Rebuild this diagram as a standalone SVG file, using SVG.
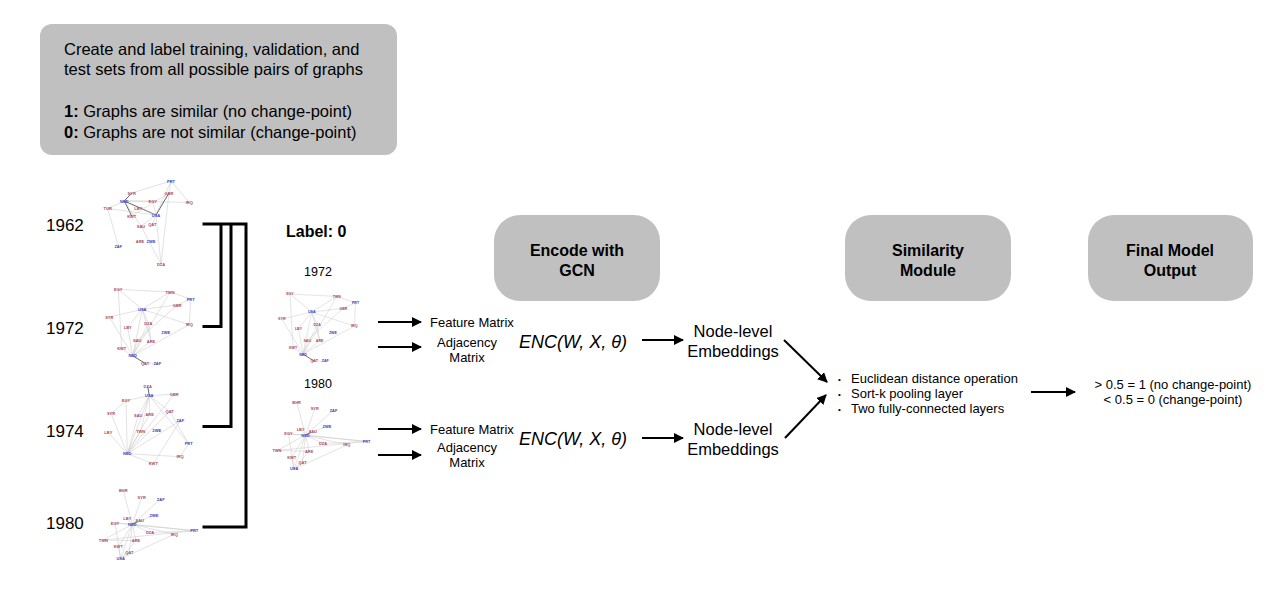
<svg xmlns="http://www.w3.org/2000/svg" xmlns:xlink="http://www.w3.org/1999/xlink" width="1288" height="594" viewBox="0 0 1288 594">
<style>
text{font-family:"Liberation Sans",Arial,sans-serif;fill:#000}
.box{fill:#c0c0c0}
.t16{font-size:16.5px}
.b16{font-size:16px;font-weight:bold}
.yr{font-size:17px}
.sm{font-size:13px}
.dot{font-size:8px}
.enc{font-size:18px;font-style:italic}
.emb{font-size:16.5px}
.con{stroke:#000;stroke-width:2;fill:none}
.br{stroke:#000;stroke-width:3;fill:none}
.e{stroke:#c8c8c8;stroke-width:0.6;opacity:0.85}
.d{stroke:#555;stroke-width:0.9}
.r{font-size:4px;fill:#a84a68;text-anchor:middle;font-weight:bold}
.u{font-size:4px;fill:#4040c0;text-anchor:middle;font-weight:bold}
</style>
<defs>
<marker id="ah" viewBox="0 0 10 10" refX="9" refY="5" markerWidth="5" markerHeight="5" orient="auto" markerUnits="strokeWidth">
<path d="M0,0 L10,5 L0,10 z" fill="#000"/>
</marker>
<g id="net1972">
<g>
<line class="e" x1="118.3" y1="289.3" x2="170" y2="292"/>
<line class="e" x1="118.3" y1="289.3" x2="142.3" y2="309.3"/>
<line class="e" x1="118.3" y1="289.3" x2="121.7" y2="348.7"/>
<line class="e" x1="170" y1="292" x2="190.7" y2="299"/>
<line class="e" x1="170" y1="292" x2="142.3" y2="309.3"/>
<line class="e" x1="170" y1="292" x2="132.7" y2="355.7"/>
<line class="e" x1="190.7" y1="299" x2="177.3" y2="305"/>
<line class="e" x1="190.7" y1="299" x2="189.3" y2="324.7"/>
<line class="e" x1="177.3" y1="305" x2="142.3" y2="309.3"/>
<line class="e" x1="177.3" y1="305" x2="137.3" y2="340.3"/>
<line class="e" x1="142.3" y1="309.3" x2="109.3" y2="317"/>
<line class="e" x1="142.3" y1="309.3" x2="127.7" y2="327"/>
<line class="e" x1="142.3" y1="309.3" x2="148.3" y2="323.3"/>
<line class="e" x1="142.3" y1="309.3" x2="132.7" y2="355.7"/>
<line class="e" x1="142.3" y1="309.3" x2="151" y2="341"/>
<line class="e" x1="142.3" y1="309.3" x2="189.3" y2="324.7"/>
<line class="e" x1="109.3" y1="317" x2="132.7" y2="355.7"/>
<line class="e" x1="127.7" y1="327" x2="132.7" y2="355.7"/>
<line class="e" x1="148.3" y1="323.3" x2="132.7" y2="355.7"/>
<line class="e" x1="148.3" y1="323.3" x2="151" y2="341"/>
<line class="e" x1="137.3" y1="340.3" x2="132.7" y2="355.7"/>
<line class="e" x1="151" y1="341" x2="132.7" y2="355.7"/>
<line class="e" x1="121.7" y1="348.7" x2="132.7" y2="355.7"/>
<line class="e" x1="189.3" y1="324.7" x2="132.7" y2="355.7"/>
<line class="d" x1="132.7" y1="355.7" x2="145" y2="363.3"/>
<line class="e" x1="145" y1="363.3" x2="157.3" y2="363.3"/>
</g>
<text class="r" x="118.3" y="290.8">EGY</text>
<text class="r" x="170" y="293.5">TWN</text>
<text class="u" x="190.7" y="300.5">PRT</text>
<text class="r" x="177.3" y="306.5">GBR</text>
<text class="u" x="142.3" y="310.8">USA</text>
<text class="r" x="109.3" y="318.5">SYR</text>
<text class="r" x="127.7" y="328.5">LBY</text>
<text class="r" x="148.3" y="324.8">DZA</text>
<text class="r" x="189.3" y="326.2">IRQ</text>
<text class="u" x="165.7" y="333.5">ZWE</text>
<text class="r" x="137.3" y="341.8">SAU</text>
<text class="r" x="151" y="342.5">ARE</text>
<text class="r" x="121.7" y="350.2">KWT</text>
<text class="u" x="132.7" y="357.2">NED</text>
<text class="r" x="145" y="364.8">QAT</text>
<text class="u" x="157.3" y="364.8">ZAF</text>
</g>
<g id="net1980">
<g>
<line class="e" x1="132.3" y1="524.3" x2="123.3" y2="490.7"/>
<line class="e" x1="132.3" y1="524.3" x2="141.7" y2="497.7"/>
<line class="e" x1="132.3" y1="524.3" x2="160.7" y2="499"/>
<line class="e" x1="132.3" y1="524.3" x2="154" y2="515.3"/>
<line class="e" x1="132.3" y1="524.3" x2="127.3" y2="518.3"/>
<line class="e" x1="132.3" y1="524.3" x2="115" y2="523"/>
<line class="d" x1="132.3" y1="524.3" x2="137.7" y2="521.7"/>
<line class="e" x1="132.3" y1="524.3" x2="150" y2="532.7"/>
<line class="e" x1="132.3" y1="524.3" x2="174.3" y2="534.3"/>
<line class="e" x1="132.3" y1="524.3" x2="194.3" y2="530.7"/>
<line class="e" x1="132.3" y1="524.3" x2="103.3" y2="540"/>
<line class="e" x1="132.3" y1="524.3" x2="136" y2="540.7"/>
<line class="e" x1="132.3" y1="524.3" x2="118.3" y2="546.7"/>
<line class="e" x1="132.3" y1="524.3" x2="129.3" y2="552"/>
<line class="e" x1="132.3" y1="524.3" x2="120.7" y2="558.7"/>
<line class="e" x1="115" y1="523" x2="194.3" y2="530.7"/>
<line class="e" x1="103.3" y1="540" x2="194.3" y2="530.7"/>
<line class="e" x1="150" y1="532.7" x2="194.3" y2="530.7"/>
<line class="e" x1="136" y1="540.7" x2="120.7" y2="558.7"/>
<line class="e" x1="118.3" y1="546.7" x2="120.7" y2="558.7"/>
<line class="e" x1="129.3" y1="552" x2="120.7" y2="558.7"/>
<line class="e" x1="115" y1="523" x2="120.7" y2="558.7"/>
<line class="e" x1="103.3" y1="540" x2="136" y2="540.7"/>
<line class="e" x1="174.3" y1="534.3" x2="120.7" y2="558.7"/>
</g>
<text class="r" x="123.3" y="492.2">BHR</text>
<text class="r" x="141.7" y="499.2">SYR</text>
<text class="u" x="160.7" y="500.5">ZAF</text>
<text class="u" x="154" y="516.8">ZWE</text>
<text class="r" x="127.3" y="519.8">LBY</text>
<text class="r" x="115" y="524.5">EGY</text>
<text class="u" x="132.3" y="525.8">NED</text>
<text class="r" x="139.7" y="522.2">SAU</text>
<text class="r" x="150" y="534.2">DZA</text>
<text class="r" x="174.3" y="535.8">IRQ</text>
<text class="u" x="194.3" y="532.2">PRT</text>
<text class="r" x="103.3" y="541.5">TWN</text>
<text class="r" x="136" y="542.2">ARE</text>
<text class="r" x="118.3" y="548.2">KWT</text>
<text class="r" x="129.3" y="553.5">QAT</text>
<text class="u" x="120.7" y="560.2">USA</text>
</g>
</defs>

<g id="intro">
<rect class="box" x="40" y="24" width="357" height="131" rx="12"/>
<text class="t16" x="64" y="55">Create and label training, validation, and</text>
<text class="t16" x="64" y="75">test sets from all possible pairs of graphs</text>
<text class="t16" x="64" y="117"><tspan font-weight="bold">1:</tspan> Graphs are similar (no change-point)</text>
<text class="t16" x="64" y="138"><tspan font-weight="bold">0:</tspan> Graphs are not similar (change-point)</text>
</g>

<g id="year1962">
<text class="yr" x="46" y="231">1962</text>
<g>
<line class="e" x1="171" y1="181" x2="131.7" y2="193"/>
<line class="e" x1="171" y1="181" x2="169" y2="193"/>
<line class="e" x1="171" y1="181" x2="189.3" y2="202.5"/>
<line class="e" x1="171" y1="181" x2="156" y2="215"/>
<line class="d" x1="131.7" y1="193" x2="124.3" y2="201"/>
<line class="e" x1="124.3" y1="201" x2="107.7" y2="208.5"/>
<line class="e" x1="124.3" y1="201" x2="152.7" y2="201"/>
<line class="e" x1="124.3" y1="201" x2="189.3" y2="202.5"/>
<line class="d" x1="124.3" y1="201" x2="131.7" y2="216"/>
<line class="d" x1="124.3" y1="201" x2="156" y2="215"/>
<line class="e" x1="124.3" y1="201" x2="141" y2="226"/>
<line class="e" x1="107.7" y1="208.5" x2="156" y2="215"/>
<line class="e" x1="107.7" y1="208.5" x2="118.3" y2="246"/>
<line class="d" x1="169" y1="193" x2="156" y2="215"/>
<line class="e" x1="169" y1="193" x2="131.7" y2="216"/>
<line class="e" x1="138.3" y1="208" x2="156" y2="215"/>
<line class="e" x1="156" y1="215" x2="152.3" y2="224.5"/>
<line class="e" x1="156" y1="215" x2="161" y2="264"/>
<line class="e" x1="169" y1="193" x2="161" y2="264"/>
<line class="e" x1="141" y1="226" x2="161" y2="264"/>
<line class="e" x1="152.7" y1="201" x2="156" y2="215"/>
<line class="e" x1="156" y1="215" x2="141" y2="226"/>
</g>
<text class="u" x="171" y="182.5">PRT</text>
<text class="r" x="131.7" y="194.5">SYR</text>
<text class="r" x="169" y="194.5">GBR</text>
<text class="u" x="124.3" y="202.5">NED</text>
<text class="r" x="152.7" y="202.5">EGY</text>
<text class="r" x="189.3" y="204">IRQ</text>
<text class="r" x="107.7" y="210">TUR</text>
<text class="r" x="138.3" y="209.5">LBY</text>
<text class="r" x="131.7" y="217.5">KWT</text>
<text class="u" x="156" y="216.5">USA</text>
<text class="r" x="141" y="227.5">SAU</text>
<text class="r" x="152.3" y="226">QAT</text>
<text class="u" x="118.3" y="247.5">ZAF</text>
<text class="r" x="140" y="242.5">ARE</text>
<text class="u" x="151" y="242.5">ZWE</text>
<text class="r" x="161" y="265.5">DZA</text>
</g>

<g id="year1972">
<text class="yr" x="46" y="334">1972</text>
<use xlink:href="#net1972" href="#net1972"/>
</g>

<g id="year1974">
<text class="yr" x="46" y="437">1974</text>
<g>
<line class="d" x1="147.7" y1="386.3" x2="149.3" y2="395.7"/>
<line class="e" x1="149.3" y1="395.7" x2="174.3" y2="394"/>
<line class="e" x1="149.3" y1="395.7" x2="126" y2="400.7"/>
<line class="e" x1="149.3" y1="395.7" x2="138.3" y2="415"/>
<line class="e" x1="149.3" y1="395.7" x2="149.7" y2="414"/>
<line class="e" x1="149.3" y1="395.7" x2="169.7" y2="411.3"/>
<line class="e" x1="149.3" y1="395.7" x2="188.7" y2="443.7"/>
<line class="e" x1="149.3" y1="395.7" x2="127.3" y2="453.7"/>
<line class="e" x1="149.3" y1="395.7" x2="140.7" y2="431"/>
<line class="e" x1="126" y1="400.7" x2="111" y2="413.7"/>
<line class="e" x1="126" y1="400.7" x2="127.3" y2="453.7"/>
<line class="e" x1="111" y1="413.7" x2="127.3" y2="453.7"/>
<line class="e" x1="108.3" y1="432.7" x2="127.3" y2="453.7"/>
<line class="e" x1="138.3" y1="415" x2="127.3" y2="453.7"/>
<line class="e" x1="149.7" y1="414" x2="127.3" y2="453.7"/>
<line class="e" x1="169.7" y1="411.3" x2="127.3" y2="453.7"/>
<line class="e" x1="174.3" y1="394" x2="127.3" y2="453.7"/>
<line class="e" x1="180.3" y1="420.7" x2="153.3" y2="463.7"/>
<line class="e" x1="180.3" y1="420.7" x2="127.3" y2="453.7"/>
<line class="e" x1="127.3" y1="453.7" x2="180" y2="456.7"/>
<line class="e" x1="127.3" y1="453.7" x2="153.3" y2="463.7"/>
<line class="e" x1="188.7" y1="443.7" x2="180" y2="456.7"/>
<line class="e" x1="140.7" y1="431" x2="127.3" y2="453.7"/>
<line class="e" x1="169.7" y1="411.3" x2="188.7" y2="443.7"/>
</g>
<text class="r" x="147.7" y="387.8">DZA</text>
<text class="u" x="149.3" y="397.2">USA</text>
<text class="r" x="174.3" y="395.5">GBR</text>
<text class="r" x="126" y="402.2">EGY</text>
<text class="r" x="111" y="415.2">SYR</text>
<text class="r" x="138.3" y="416.5">SAU</text>
<text class="r" x="149.7" y="415.5">ARE</text>
<text class="r" x="169.7" y="412.8">QAT</text>
<text class="u" x="180.3" y="422.2">ZAF</text>
<text class="r" x="108.3" y="434.2">LBY</text>
<text class="r" x="140.7" y="432.5">TWN</text>
<text class="u" x="156.7" y="431.5">ZWE</text>
<text class="u" x="188.7" y="445.2">PRT</text>
<text class="u" x="127.3" y="455.2">NED</text>
<text class="r" x="180" y="458.2">IRQ</text>
<text class="r" x="153.3" y="465.2">KWT</text>
</g>

<g id="year1980">
<text class="yr" x="46" y="529">1980</text>
<use xlink:href="#net1980" href="#net1980"/>
</g>

<g id="pair-label">
<text class="b16" x="286" y="237">Label: 0</text>
</g>

<g id="pair1972">
<text x="318" y="276" font-size="12.5" text-anchor="middle">1972</text>
<use xlink:href="#net1972" href="#net1972" transform="translate(182.8,31.9) scale(0.906)"/>
</g>

<g id="pair1980">
<text x="318" y="388" font-size="12.5" text-anchor="middle">1980</text>
<use xlink:href="#net1980" href="#net1980" transform="translate(175.2,-81.3) scale(0.985)"/>
</g>

<g id="inputs-top">
<text class="sm" x="430" y="327">Feature Matrix</text>
<text class="sm" x="467" y="347" text-anchor="middle">Adjacency</text>
<text class="sm" x="467" y="362" text-anchor="middle">Matrix</text>
</g>
<g id="inputs-bottom">
<text class="sm" x="430" y="434">Feature Matrix</text>
<text class="sm" x="467" y="452" text-anchor="middle">Adjacency</text>
<text class="sm" x="467" y="467" text-anchor="middle">Matrix</text>
</g>

<g id="enc-top"><text class="enc" x="519" y="348">ENC(W, X, θ)</text></g>
<g id="enc-bottom"><text class="enc" x="519" y="445">ENC(W, X, θ)</text></g>

<g id="gcn">
<rect class="box" x="494" y="215" width="166" height="86" rx="26"/>
<text class="b16" x="577" y="256" text-anchor="middle">Encode with</text>
<text class="b16" x="577" y="276" text-anchor="middle">GCN</text>
</g>

<g id="emb-top">
<text class="emb" x="733" y="337" text-anchor="middle">Node-level</text>
<text class="emb" x="733" y="357" text-anchor="middle">Embeddings</text>
</g>
<g id="emb-bottom">
<text class="emb" x="733" y="435" text-anchor="middle">Node-level</text>
<text class="emb" x="733" y="455" text-anchor="middle">Embeddings</text>
</g>

<g id="similarity">
<rect class="box" x="845" y="215" width="166" height="86" rx="26"/>
<text class="b16" x="928" y="256" text-anchor="middle">Similarity</text>
<text class="b16" x="928" y="276" text-anchor="middle">Module</text>
</g>

<g id="similarity-ops">
<text class="dot" x="838" y="382">•</text>
<text class="sm" x="851" y="383">Euclidean distance operation</text>
<text class="dot" x="838" y="397">•</text>
<text class="sm" x="851" y="398">Sort-k pooling layer</text>
<text class="dot" x="838" y="412">•</text>
<text class="sm" x="851" y="413">Two fully-connected layers</text>
</g>

<g id="final">
<rect class="box" x="1088" y="215" width="165" height="86" rx="26"/>
<text class="b16" x="1170" y="256" text-anchor="middle">Final Model</text>
<text class="b16" x="1170" y="276" text-anchor="middle">Output</text>
</g>

<g id="output">
<text class="sm" x="1173" y="389" text-anchor="middle">&gt; 0.5 = 1 (no change-point)</text>
<text class="sm" x="1173" y="404" text-anchor="middle">&lt; 0.5 = 0 (change-point)</text>
</g>

<g id="connectors">
<polyline class="br" points="202.5,224 246,224 246,527 202.5,527"/>
<polyline class="br" points="221,224 221,326.5 202.5,326.5"/>
<polyline class="br" points="231,224 231,426.5 202.5,426.5"/>
<line class="con" x1="378" y1="322" x2="421" y2="322" marker-end="url(#ah)"/>
<line class="con" x1="378" y1="347" x2="421" y2="347" marker-end="url(#ah)"/>
<line class="con" x1="378" y1="429" x2="421" y2="429" marker-end="url(#ah)"/>
<line class="con" x1="378" y1="455" x2="421" y2="455" marker-end="url(#ah)"/>
<line class="con" x1="642" y1="340" x2="683" y2="340" marker-end="url(#ah)"/>
<line class="con" x1="642" y1="438" x2="683" y2="438" marker-end="url(#ah)"/>
<line class="con" x1="784" y1="340" x2="827" y2="382" marker-end="url(#ah)"/>
<line class="con" x1="785" y1="438" x2="826" y2="395" marker-end="url(#ah)"/>
<line class="con" x1="1031" y1="392" x2="1075" y2="392" marker-end="url(#ah)"/>
</g>
</svg>
